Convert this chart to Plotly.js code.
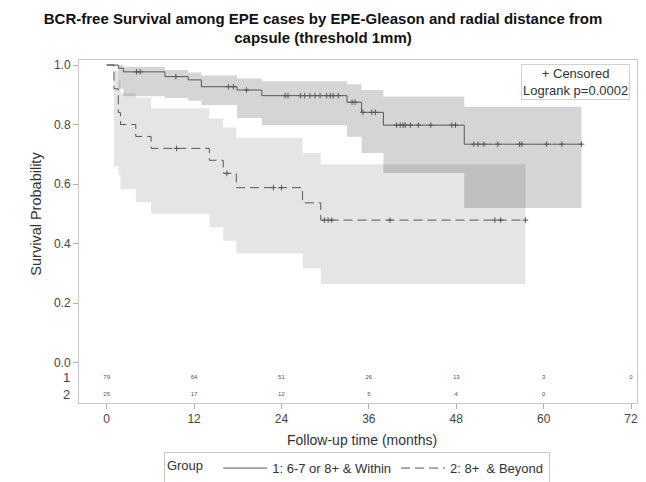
<!DOCTYPE html>
<html>
<head>
<meta charset="utf-8">
<script src="https://cdn.plot.ly/plotly-3.0.1.min.js"></script>
<style>
  html, body { margin: 0; padding: 0; background: #ffffff; }
  #chart { width: 646px; height: 482px; }
</style>
</head>
<body>
<div id="chart"></div>
<script>
// Group 1: EPE-Gleason 6-7, or 8+ within 1 mm of the capsule
const g1Times = [0, 1.6, 2.3, 8.0, 11.2, 13.0, 17.9, 21.3, 33.0, 35.0, 38.0, 49.1];
const g1Surv  = [1.0, 0.989, 0.977, 0.961, 0.950, 0.927, 0.916, 0.897, 0.875, 0.841, 0.798, 0.734];
const g1End   = 65.2;
const g1BandTimes = [1.6, 2.3, 8.0, 11.2, 13.0, 17.9, 21.3, 33.0, 35.0, 38.0, 49.1];
const g1Lower = [0.92, 0.895, 0.889, 0.88, 0.866, 0.822, 0.798, 0.759, 0.704, 0.637, 0.52];
const g1Upper = [1.0, 0.994, 0.983, 0.975, 0.965, 0.955, 0.945, 0.935, 0.916, 0.894, 0.86];
const g1Censored = [4.1, 4.6, 9.5, 16.7, 17.4, 19.2, 24.5, 24.9, 26.6, 27.2, 27.9, 28.6, 29.3,
                    30.2, 30.7, 31.1, 31.8, 33.7, 34.1, 35.2, 36.4, 36.9, 39.8, 40.3, 40.7, 41.0,
                    41.7, 42.8, 44.5, 47.4, 47.9, 50.4, 51.0, 51.8, 53.7, 56.7, 57.0, 60.4, 62.5, 65.2];

// Group 2: EPE-Gleason 8+ beyond 1 mm from the capsule
const g2Times = [0, 1.0, 1.6, 1.9, 4.0, 6.1, 14.1, 16.0, 17.8, 26.9, 29.4];
const g2Surv  = [1.0, 0.92, 0.84, 0.80, 0.76, 0.72, 0.68, 0.636, 0.588, 0.537, 0.479];
const g2End   = 57.5;
const g2BandTimes = [1.0, 1.6, 1.9, 4.0, 6.1, 14.1, 16.0, 17.8, 26.9, 29.4];
const g2Lower = [0.66, 0.63, 0.583, 0.54, 0.50, 0.455, 0.41, 0.367, 0.317, 0.264];
const g2Upper = [0.98, 0.95, 0.905, 0.89, 0.855, 0.82, 0.79, 0.755, 0.704, 0.667];
const g2Censored = [9.6, 16.5, 22.9, 24.0, 29.9, 30.4, 30.9, 38.9, 53.3, 54.1, 57.5];

// Number at risk
const riskTimes = [0, 12, 24, 36, 48, 60, 72];
const risk1 = [79, 64, 51, 26, 13, 3, 0];
const risk2 = [25, 17, 12, 5, 4, 0];

const groupNames = ['1: 6-7 or 8+ & Within', '2: 8+\u00a0\u00a0& Beyond'];
const xTicks = [0, 12, 24, 36, 48, 60, 72];
const yTicks = [0, 0.2, 0.4, 0.6, 0.8, 1.0];

const FONT = 'Liberation Sans, Arial, Helvetica, sans-serif';
const LINE = '#575757';

// survival value at time t for a step function
function stepAt(times, surv, t) {
  let s = surv[0];
  for (let i = 0; i < times.length; i++) if (times[i] <= t) s = surv[i];
  return s;
}

// closed polygon for a step-shaped confidence band
function bandPolygon(times, lo, hi, end) {
  const xs = [], ys = [];
  for (let i = 0; i < times.length; i++) {
    const t1 = i + 1 < times.length ? times[i + 1] : end;
    xs.push(times[i], t1); ys.push(hi[i], hi[i]);
  }
  for (let i = times.length - 1; i >= 0; i--) {
    const t1 = i + 1 < times.length ? times[i + 1] : end;
    xs.push(t1, times[i]); ys.push(lo[i], lo[i]);
  }
  return { x: xs, y: ys };
}

function curve(times, surv, end) {
  return { x: times.concat([end]), y: surv.concat([surv[surv.length - 1]]) };
}

const b1 = bandPolygon(g1BandTimes, g1Lower, g1Upper, g1End);
const b2 = bandPolygon(g2BandTimes, g2Lower, g2Upper, g2End);
const c1 = curve(g1Times, g1Surv, g1End);
const c2 = curve(g2Times, g2Surv, g2End);

const traces = [
  { x: b1.x, y: b1.y, type: 'scatter', mode: 'lines', fill: 'toself',
    fillcolor: 'rgba(0,0,0,0.165)', line: { width: 0 }, hoverinfo: 'skip', showlegend: false },
  { x: b2.x, y: b2.y, type: 'scatter', mode: 'lines', fill: 'toself',
    fillcolor: 'rgba(0,0,0,0.10)', line: { width: 0 }, hoverinfo: 'skip', showlegend: false },
  { x: c1.x, y: c1.y, type: 'scatter', mode: 'lines', name: groupNames[0],
    line: { color: LINE, width: 1, shape: 'hv' } },
  { x: c2.x, y: c2.y, type: 'scatter', mode: 'lines', name: groupNames[1],
    line: { color: LINE, width: 1, shape: 'hv', dash: '9px,5px' } },
  { x: g1Censored, y: g1Censored.map(t => stepAt(g1Times, g1Surv, t)), type: 'scatter',
    mode: 'markers', showlegend: false,
    marker: { symbol: 'cross-thin', size: 4, line: { color: LINE, width: 1 } } },
  { x: g2Censored, y: g2Censored.map(t => stepAt(g2Times, g2Surv, t)), type: 'scatter',
    mode: 'markers', showlegend: false,
    marker: { symbol: 'cross-thin', size: 4, line: { color: LINE, width: 1 } } },
  { x: riskTimes.slice(0, risk1.length), y: risk1.map(() => -0.051), text: risk1.map(String),
    type: 'scatter', mode: 'text', showlegend: false, hoverinfo: 'skip',
    textfont: { family: FONT, size: 6, color: '#555' } },
  { x: riskTimes.slice(0, risk2.length), y: risk2.map(() => -0.108), text: risk2.map(String),
    type: 'scatter', mode: 'text', showlegend: false, hoverinfo: 'skip',
    textfont: { family: FONT, size: 6, color: '#555' } }
];

const layout = {
  width: 646, height: 482,
  margin: { l: 79, r: 9, t: 60, b: 79, autoexpand: false },
  paper_bgcolor: '#ffffff', plot_bgcolor: '#ffffff',
  font: { family: FONT, color: '#444', size: 12 },
  title: {
    text: '<b>BCR-free Survival among EPE cases by EPE-Gleason and radial distance from<br>capsule (threshold 1mm)</b>',
    x: 0.5, xanchor: 'center', y: 0.951, yanchor: 'top',
    font: { family: FONT, size: 15, color: '#111' }
  },
  xaxis: {
    range: [-3.8, 72.82], tickvals: xTicks, ticktext: xTicks.map(String),
    showgrid: false, zeroline: false, showline: true, mirror: true,
    linecolor: '#c8c8c8', linewidth: 1, ticks: 'outside', ticklen: 5, tickcolor: '#b0b0b0',
    tickfont: { family: FONT, size: 12, color: '#444' }
  },
  yaxis: {
    range: [-0.1354, 1.0168], tickvals: yTicks, ticktext: yTicks.map(v => v.toFixed(1)),
    showgrid: false, zeroline: false, showline: true, mirror: true,
    linecolor: '#c8c8c8', linewidth: 1, ticks: 'outside', ticklen: 5, tickcolor: '#b0b0b0',
    tickfont: { family: FONT, size: 12, color: '#444' }
  },
  showlegend: true,
  legend: {
    orientation: 'h', x: 0.498, xanchor: 'center',
    yref: 'container', y: 0.062, yanchor: 'top',
    title: { text: 'Group\u00a0\u00a0', side: 'left', font: { family: FONT, size: 13, color: '#333' } },
    font: { family: FONT, size: 13, color: '#333' },
    bordercolor: '#c8c8c8', borderwidth: 1, bgcolor: '#ffffff',
    itemwidth: 44, tracegroupgap: 0
  },
  annotations: [
    { xref: 'paper', yref: 'paper', x: 0.988, y: 0.988, xanchor: 'right', yanchor: 'top',
      text: '+ Censored<br>Logrank p=0.0002', align: 'center', showarrow: false,
      bordercolor: '#d0d0d0', borderwidth: 1, borderpad: 1, bgcolor: '#ffffff',
      font: { family: FONT, size: 13, color: '#333' } },
    { xref: 'paper', yref: 'paper', x: -0.0777, y: 0.551, xanchor: 'center', yanchor: 'middle',
      textangle: -90, text: 'Survival Probability', showarrow: false,
      font: { family: FONT, size: 14.5, color: '#333' } },
    { xref: 'paper', yref: 'paper', x: 0.508, y: -0.108, yanchor: 'middle',
      text: 'Follow-up time (months)', showarrow: false,
      font: { family: FONT, size: 14, color: '#333' } },
    { xref: 'paper', yref: 'y', x: -0.013, y: -0.051, xanchor: 'right',
      text: '1', showarrow: false, font: { family: FONT, size: 13, color: '#444' } },
    { xref: 'paper', yref: 'y', x: -0.013, y: -0.108, xanchor: 'right',
      text: '2', showarrow: false, font: { family: FONT, size: 13, color: '#444' } }
  ]
};

Plotly.newPlot('chart', traces, layout, { displayModeBar: false, staticPlot: true });
</script>
</body>
</html>
